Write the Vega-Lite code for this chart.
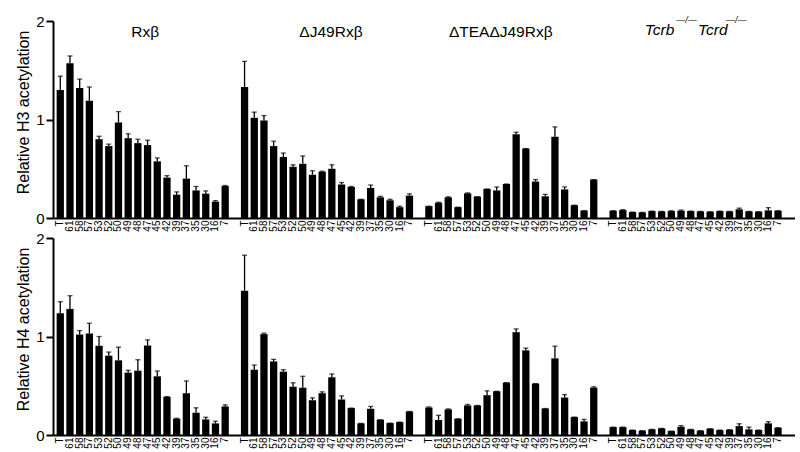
{
  "$schema": "https://vega.github.io/schema/vega-lite/v6.json",
  "padding": {"left": 15, "top": 14, "right": 0, "bottom": 0},
  "background": "white",
  "config": {
    "font": "Liberation Sans",
    "view": {"stroke": null},
    "axis": {"domainColor": "black", "tickColor": "black", "labelColor": "black", "titleColor": "black", "grid": false, "labelFont": "Liberation Sans", "titleFont": "Liberation Sans"},
    "text": {"font": "Liberation Sans", "color": "black"}
  },
  "datasets": {
    "acetyl": [
      {"h":"H3","g":"A","r":"T","v":1.30,"e":1.44},{"h":"H3","g":"A","r":"61","v":1.57,"e":1.645},{"h":"H3","g":"A","r":"58","v":1.32,"e":1.41},{"h":"H3","g":"A","r":"57","v":1.19,"e":1.33},{"h":"H3","g":"A","r":"53","v":0.80,"e":0.83},{"h":"H3","g":"A","r":"52","v":0.73,"e":0.75},{"h":"H3","g":"A","r":"50","v":0.97,"e":1.08},{"h":"H3","g":"A","r":"49","v":0.81,"e":0.855},{"h":"H3","g":"A","r":"48","v":0.76,"e":0.80},{"h":"H3","g":"A","r":"47","v":0.74,"e":0.79},{"h":"H3","g":"A","r":"45","v":0.575,"e":0.61},{"h":"H3","g":"A","r":"42","v":0.41,"e":0.43},{"h":"H3","g":"A","r":"39","v":0.237,"e":0.265},{"h":"H3","g":"A","r":"37","v":0.40,"e":0.53},{"h":"H3","g":"A","r":"35","v":0.28,"e":0.32},{"h":"H3","g":"A","r":"30","v":0.247,"e":0.275},{"h":"H3","g":"A","r":"16","v":0.166,"e":0.176},{"h":"H3","g":"A","r":"7","v":0.325,"e":0.33},
      {"h":"H3","g":"B","r":"T","v":1.33,"e":1.59},{"h":"H3","g":"B","r":"61","v":1.017,"e":1.075},{"h":"H3","g":"B","r":"58","v":0.99,"e":1.04},{"h":"H3","g":"B","r":"57","v":0.73,"e":0.78},{"h":"H3","g":"B","r":"53","v":0.62,"e":0.66},{"h":"H3","g":"B","r":"52","v":0.52,"e":0.54},{"h":"H3","g":"B","r":"50","v":0.55,"e":0.63},{"h":"H3","g":"B","r":"49","v":0.44,"e":0.48},{"h":"H3","g":"B","r":"48","v":0.47,"e":0.475},{"h":"H3","g":"B","r":"47","v":0.50,"e":0.54},{"h":"H3","g":"B","r":"45","v":0.34,"e":0.36},{"h":"H3","g":"B","r":"42","v":0.315,"e":0.32},{"h":"H3","g":"B","r":"39","v":0.19,"e":0.19},{"h":"H3","g":"B","r":"37","v":0.305,"e":0.335},{"h":"H3","g":"B","r":"35","v":0.21,"e":0.22},{"h":"H3","g":"B","r":"30","v":0.18,"e":0.19},{"h":"H3","g":"B","r":"16","v":0.11,"e":0.12},{"h":"H3","g":"B","r":"7","v":0.227,"e":0.245},
      {"h":"H3","g":"C","r":"T","v":0.12,"e":0.12},{"h":"H3","g":"C","r":"61","v":0.155,"e":0.16},{"h":"H3","g":"C","r":"58","v":0.21,"e":0.215},{"h":"H3","g":"C","r":"57","v":0.11,"e":0.11},{"h":"H3","g":"C","r":"53","v":0.25,"e":0.255},{"h":"H3","g":"C","r":"52","v":0.217,"e":0.217},{"h":"H3","g":"C","r":"50","v":0.295,"e":0.295},{"h":"H3","g":"C","r":"49","v":0.28,"e":0.315},{"h":"H3","g":"C","r":"48","v":0.345,"e":0.345},{"h":"H3","g":"C","r":"47","v":0.85,"e":0.87},{"h":"H3","g":"C","r":"45","v":0.705,"e":0.705},{"h":"H3","g":"C","r":"42","v":0.37,"e":0.39},{"h":"H3","g":"C","r":"39","v":0.22,"e":0.24},{"h":"H3","g":"C","r":"37","v":0.825,"e":0.925},{"h":"H3","g":"C","r":"35","v":0.29,"e":0.315},{"h":"H3","g":"C","r":"30","v":0.13,"e":0.13},{"h":"H3","g":"C","r":"16","v":0.075,"e":0.075},{"h":"H3","g":"C","r":"7","v":0.39,"e":0.39},
      {"h":"H3","g":"D","r":"T","v":0.074,"e":0.074},{"h":"H3","g":"D","r":"61","v":0.08,"e":0.085},{"h":"H3","g":"D","r":"58","v":0.06,"e":0.06},{"h":"H3","g":"D","r":"57","v":0.057,"e":0.057},{"h":"H3","g":"D","r":"53","v":0.07,"e":0.07},{"h":"H3","g":"D","r":"52","v":0.067,"e":0.067},{"h":"H3","g":"D","r":"50","v":0.07,"e":0.073},{"h":"H3","g":"D","r":"49","v":0.074,"e":0.08},{"h":"H3","g":"D","r":"48","v":0.07,"e":0.07},{"h":"H3","g":"D","r":"47","v":0.067,"e":0.067},{"h":"H3","g":"D","r":"45","v":0.064,"e":0.064},{"h":"H3","g":"D","r":"42","v":0.07,"e":0.07},{"h":"H3","g":"D","r":"39","v":0.067,"e":0.067},{"h":"H3","g":"D","r":"37","v":0.088,"e":0.1},{"h":"H3","g":"D","r":"35","v":0.067,"e":0.067},{"h":"H3","g":"D","r":"30","v":0.064,"e":0.064},{"h":"H3","g":"D","r":"16","v":0.077,"e":0.105},{"h":"H3","g":"D","r":"7","v":0.074,"e":0.074},
      {"h":"H4","g":"A","r":"T","v":1.236,"e":1.354},{"h":"H4","g":"A","r":"61","v":1.28,"e":1.414},{"h":"H4","g":"A","r":"58","v":1.02,"e":1.06},{"h":"H4","g":"A","r":"57","v":1.03,"e":1.135},{"h":"H4","g":"A","r":"53","v":0.906,"e":1.0},{"h":"H4","g":"A","r":"52","v":0.805,"e":0.842},{"h":"H4","g":"A","r":"50","v":0.758,"e":0.892},{"h":"H4","g":"A","r":"49","v":0.633,"e":0.657},{"h":"H4","g":"A","r":"48","v":0.653,"e":0.764},{"h":"H4","g":"A","r":"47","v":0.909,"e":0.966},{"h":"H4","g":"A","r":"45","v":0.596,"e":0.65},{"h":"H4","g":"A","r":"42","v":0.387,"e":0.39},{"h":"H4","g":"A","r":"39","v":0.165,"e":0.17},{"h":"H4","g":"A","r":"37","v":0.424,"e":0.549},{"h":"H4","g":"A","r":"35","v":0.226,"e":0.276},{"h":"H4","g":"A","r":"30","v":0.158,"e":0.18},{"h":"H4","g":"A","r":"16","v":0.118,"e":0.14},{"h":"H4","g":"A","r":"7","v":0.29,"e":0.306},
      {"h":"H4","g":"B","r":"T","v":1.465,"e":1.825},{"h":"H4","g":"B","r":"61","v":0.663,"e":0.71},{"h":"H4","g":"B","r":"58","v":1.024,"e":1.034},{"h":"H4","g":"B","r":"57","v":0.747,"e":0.768},{"h":"H4","g":"B","r":"53","v":0.643,"e":0.663},{"h":"H4","g":"B","r":"52","v":0.49,"e":0.53},{"h":"H4","g":"B","r":"50","v":0.48,"e":0.596},{"h":"H4","g":"B","r":"49","v":0.353,"e":0.377},{"h":"H4","g":"B","r":"48","v":0.424,"e":0.438},{"h":"H4","g":"B","r":"47","v":0.586,"e":0.62},{"h":"H4","g":"B","r":"45","v":0.36,"e":0.397},{"h":"H4","g":"B","r":"42","v":0.273,"e":0.273},{"h":"H4","g":"B","r":"39","v":0.118,"e":0.118},{"h":"H4","g":"B","r":"37","v":0.266,"e":0.29},{"h":"H4","g":"B","r":"35","v":0.155,"e":0.155},{"h":"H4","g":"B","r":"30","v":0.121,"e":0.121},{"h":"H4","g":"B","r":"16","v":0.131,"e":0.131},{"h":"H4","g":"B","r":"7","v":0.239,"e":0.239},
      {"h":"H4","g":"C","r":"T","v":0.279,"e":0.285},{"h":"H4","g":"C","r":"61","v":0.152,"e":0.2},{"h":"H4","g":"C","r":"58","v":0.26,"e":0.265},{"h":"H4","g":"C","r":"57","v":0.165,"e":0.165},{"h":"H4","g":"C","r":"53","v":0.3,"e":0.31},{"h":"H4","g":"C","r":"52","v":0.3,"e":0.3},{"h":"H4","g":"C","r":"50","v":0.404,"e":0.448},{"h":"H4","g":"C","r":"49","v":0.444,"e":0.444},{"h":"H4","g":"C","r":"48","v":0.532,"e":0.532},{"h":"H4","g":"C","r":"47","v":1.044,"e":1.077},{"h":"H4","g":"C","r":"45","v":0.859,"e":0.882},{"h":"H4","g":"C","r":"42","v":0.522,"e":0.522},{"h":"H4","g":"C","r":"39","v":0.269,"e":0.269},{"h":"H4","g":"C","r":"37","v":0.778,"e":0.902},{"h":"H4","g":"C","r":"35","v":0.38,"e":0.41},{"h":"H4","g":"C","r":"30","v":0.182,"e":0.182},{"h":"H4","g":"C","r":"16","v":0.138,"e":0.158},{"h":"H4","g":"C","r":"7","v":0.481,"e":0.49},
      {"h":"H4","g":"D","r":"T","v":0.08,"e":0.08},{"h":"H4","g":"D","r":"61","v":0.08,"e":0.08},{"h":"H4","g":"D","r":"58","v":0.05,"e":0.05},{"h":"H4","g":"D","r":"57","v":0.044,"e":0.044},{"h":"H4","g":"D","r":"53","v":0.057,"e":0.057},{"h":"H4","g":"D","r":"52","v":0.067,"e":0.067},{"h":"H4","g":"D","r":"50","v":0.04,"e":0.04},{"h":"H4","g":"D","r":"49","v":0.084,"e":0.095},{"h":"H4","g":"D","r":"48","v":0.057,"e":0.057},{"h":"H4","g":"D","r":"47","v":0.044,"e":0.044},{"h":"H4","g":"D","r":"45","v":0.064,"e":0.064},{"h":"H4","g":"D","r":"42","v":0.05,"e":0.05},{"h":"H4","g":"D","r":"39","v":0.054,"e":0.054},{"h":"H4","g":"D","r":"37","v":0.09,"e":0.114},{"h":"H4","g":"D","r":"35","v":0.057,"e":0.08},{"h":"H4","g":"D","r":"30","v":0.05,"e":0.05},{"h":"H4","g":"D","r":"16","v":0.118,"e":0.135},{"h":"H4","g":"D","r":"7","v":0.074,"e":0.074}
    ]
  },
  "bounds": "flush",
  "spacing": 20,
  "vconcat": [
    {
      "width": 742,
      "height": 197,
      "layer": [
        {
          "data": {"name": "acetyl"},
          "transform": [{"filter": "datum.h === 'H3'"}, {"calculate": "datum.g + ':' + datum.r", "as": "k"}],
          "layer": [
            {"mark": {"type": "bar", "color": "black"}},
            {"mark": {"type": "rule", "color": "black", "strokeWidth": 1.3}, "encoding": {"y2": {"field": "e"}}},
            {"mark": {"type": "tick", "color": "black", "thickness": 1.3, "size": 5}, "encoding": {"y": {"field": "e", "type": "quantitative"}}}
          ],
          "encoding": {
            "x": {"field": "k", "type": "nominal", "sort": null,
              "scale": {"domain": ["A:T","A:61","A:58","A:57","A:53","A:52","A:50","A:49","A:48","A:47","A:45","A:42","A:39","A:37","A:35","A:30","A:16","A:7","A:","B:T","B:61","B:58","B:57","B:53","B:52","B:50","B:49","B:48","B:47","B:45","B:42","B:39","B:37","B:35","B:30","B:16","B:7","B:","C:T","C:61","C:58","C:57","C:53","C:52","C:50","C:49","C:48","C:47","C:45","C:42","C:39","C:37","C:35","C:30","C:16","C:7","C:","D:T","D:61","D:58","D:57","D:53","D:52","D:50","D:49","D:48","D:47","D:45","D:42","D:39","D:37","D:35","D:30","D:16","D:7","D:"], "paddingInner": 0.25, "paddingOuter": 0.375},
              "axis": {"title": null, "labelExpr": "substring(datum.value, 2)", "labelAngle": -90, "labelFontSize": 10, "labelPadding": 2, "ticks": false, "domainWidth": 2}},
            "y": {"field": "v", "type": "quantitative",
              "scale": {"domain": [0, 2], "nice": false},
              "axis": {"title": "Relative H3 acetylation", "tickCount": 2, "labelOverlap": false, "labelFontSize": 15, "labelPadding": 2, "tickSize": 7, "tickWidth": 2, "domainWidth": 2, "titleFontSize": 16, "titleFontWeight": "normal", "titleX": -25, "titleY": 91, "titleBaseline": "alphabetic", "titleAngle": -90}}
          }
        },
        {"data": {"values": [{"t": "Rxβ"}]}, "mark": {"type": "text", "fontSize": 15.5, "baseline": "alphabetic", "dx": -2.4}, "encoding": {"x": {"datum": "A:47"}, "y": {"datum": 1.84}, "text": {"field": "t"}}},
        {"data": {"values": [{"t": "ΔJ49Rxβ"}]}, "mark": {"type": "text", "fontSize": 15.5, "baseline": "alphabetic", "dx": -0.9}, "encoding": {"x": {"datum": "B:47"}, "y": {"datum": 1.84}, "text": {"field": "t"}}},
        {"data": {"values": [{"t": "ΔTEAΔJ49Rxβ"}]}, "mark": {"type": "text", "fontSize": 15.5, "baseline": "alphabetic", "dx": 4}, "encoding": {"x": {"datum": "C:49"}, "y": {"datum": 1.84}, "text": {"field": "t"}}},
        {"data": {"values": [{"t": "Tcrb"}]}, "mark": {"type": "text", "fontSize": 15.5, "fontStyle": "italic", "align": "left", "baseline": "alphabetic", "dx": 2.5}, "encoding": {"x": {"datum": "D:57"}, "y": {"datum": 1.855}, "text": {"field": "t"}}},
        {"data": {"values": [{"t": "—/—"}]}, "mark": {"type": "text", "fontSize": 9, "fontStyle": "italic", "align": "left", "baseline": "alphabetic", "dx": 34}, "encoding": {"x": {"datum": "D:57"}, "y": {"datum": 1.98}, "text": {"field": "t"}}},
        {"data": {"values": [{"t": "Tcrd"}]}, "mark": {"type": "text", "fontSize": 15.5, "fontStyle": "italic", "align": "left", "baseline": "alphabetic", "dx": 55.7}, "encoding": {"x": {"datum": "D:57"}, "y": {"datum": 1.855}, "text": {"field": "t"}}},
        {"data": {"values": [{"t": "—/—"}]}, "mark": {"type": "text", "fontSize": 9, "fontStyle": "italic", "align": "left", "baseline": "alphabetic", "dx": 83.7}, "encoding": {"x": {"datum": "D:57"}, "y": {"datum": 1.98}, "text": {"field": "t"}}}
      ]
    },
    {
      "width": 742,
      "height": 197,
      "data": {"name": "acetyl"},
      "transform": [{"filter": "datum.h === 'H4'"}, {"calculate": "datum.g + ':' + datum.r", "as": "k"}],
      "layer": [
        {"mark": {"type": "bar", "color": "black"}},
        {"mark": {"type": "rule", "color": "black", "strokeWidth": 1.3}, "encoding": {"y2": {"field": "e"}}},
        {"mark": {"type": "tick", "color": "black", "thickness": 1.3, "size": 5}, "encoding": {"y": {"field": "e", "type": "quantitative"}}}
      ],
      "encoding": {
        "x": {"field": "k", "type": "nominal", "sort": null,
          "scale": {"domain": ["A:T","A:61","A:58","A:57","A:53","A:52","A:50","A:49","A:48","A:47","A:45","A:42","A:39","A:37","A:35","A:30","A:16","A:7","A:","B:T","B:61","B:58","B:57","B:53","B:52","B:50","B:49","B:48","B:47","B:45","B:42","B:39","B:37","B:35","B:30","B:16","B:7","B:","C:T","C:61","C:58","C:57","C:53","C:52","C:50","C:49","C:48","C:47","C:45","C:42","C:39","C:37","C:35","C:30","C:16","C:7","C:","D:T","D:61","D:58","D:57","D:53","D:52","D:50","D:49","D:48","D:47","D:45","D:42","D:39","D:37","D:35","D:30","D:16","D:7","D:"], "paddingInner": 0.25, "paddingOuter": 0.375},
          "axis": {"title": null, "labelExpr": "substring(datum.value, 2)", "labelAngle": -90, "labelFontSize": 10, "labelPadding": 2, "ticks": false, "domainWidth": 2}},
        "y": {"field": "v", "type": "quantitative",
          "scale": {"domain": [0, 2], "nice": false},
          "axis": {"title": "Relative H4 acetylation", "tickCount": 2, "labelOverlap": false, "labelFontSize": 15, "labelPadding": 2, "tickSize": 7, "tickWidth": 2, "domainWidth": 2, "titleFontSize": 16, "titleFontWeight": "normal", "titleX": -25, "titleY": 91, "titleBaseline": "alphabetic", "titleAngle": -90}}
      }
    }
  ]
}
